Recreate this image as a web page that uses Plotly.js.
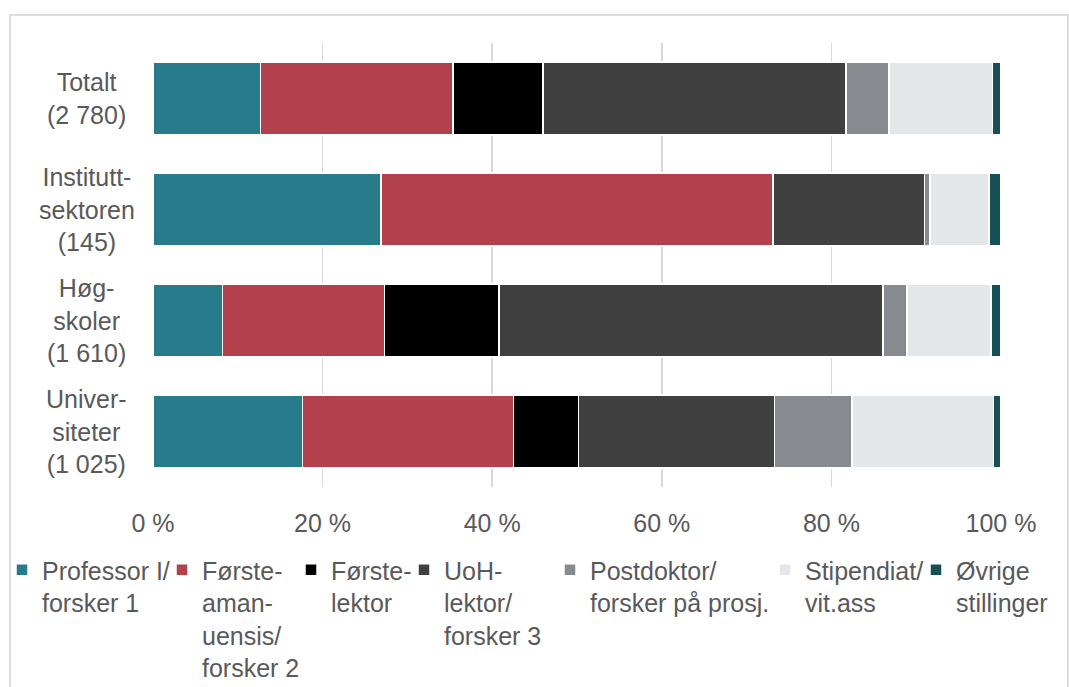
<!DOCTYPE html>
<html>
<head>
<meta charset="utf-8">
<script src="https://cdn.plot.ly/plotly-3.0.1.min.js"></script>
<style>
  html, body { margin: 0; padding: 0; background: #ffffff; }
  #wrap { position: relative; width: 1069px; height: 687px; overflow: hidden; }
  #chart { position: absolute; left: 0; top: 0; width: 1069px; height: 687px; }
  #frame { position: absolute; left: 9px; top: 14px; width: 1060px; height: 690px;
           border: 2px solid #DDDDDD; box-sizing: border-box; pointer-events: none; }
</style>
</head>
<body>
<div id="wrap">
  <div id="chart"></div>
  <div id="frame"></div>
</div>
<script>
// Categories, top to bottom
const categories = ["Totalt", "Instituttsektoren", "Høgskoler", "Universiteter"];
const categoryLabels = ["Totalt<br>(2 780)", "Institutt-<br>sektoren<br>(145)", "Høg-<br>skoler<br>(1 610)", "Univer-<br>siteter<br>(1 025)"];

// Series names (legend text)
const seriesNames = [
  "Professor I/<br>forsker 1",
  "Første-<br>aman-<br>uensis/<br>forsker 2",
  "Første-<br>lektor",
  "UoH-<br>lektor/<br>forsker 3",
  "Postdoktor/<br>forsker på prosj.",
  "Stipendiat/<br>vit.ass",
  "Øvrige<br>stillinger"
];

// Shares (%) per category, in category order above
const professor      = [12.7, 26.9,  8.2, 17.6];
const forsteamanuens = [22.7, 46.2, 19.1, 24.9];
const forstelektor   = [10.6,  0.0, 13.5,  7.7];
const uohLektor      = [35.7, 17.9, 45.3, 23.1];
const postdoktor     = [ 5.1,  0.6,  2.8,  9.1];
const stipendiat     = [12.2,  7.0,  9.9, 16.7];
const ovrige         = [ 1.0,  1.4,  1.2,  0.9];

// X axis ticks
const xTickVals = [0, 20, 40, 60, 80, 100];
const xTickText = ["0 %", "20 %", "40 %", "60 %", "80 %", "100 %"];

const seriesValues = [professor, forsteamanuens, forstelektor, uohLektor, postdoktor, stipendiat, ovrige];
const colors = ["#287B8B", "#B3404D", "#000000", "#404040", "#878B8F", "#E3E7EA", "#174F56"];

const FONT = "Liberation Sans, Arial, sans-serif";
const TXT = "#595959";
const FS = 25;

// Legend entry left edges (px) — one legend per series so each entry sits where the original does
const legendLeftPx = [2, 162, 291, 404, 550, 765, 916];
const legendIds = ["legend", "legend2", "legend3", "legend4", "legend5", "legend6", "legend7"];

const traces = seriesValues.map((vals, i) => ({
  type: "bar",
  orientation: "h",
  name: seriesNames[i],
  y: categories,
  x: vals,
  legend: legendIds[i],
  marker: { color: colors[i], line: { color: "#FFFFFF", width: 1.5 } },
  hoverinfo: "skip"
}));

const annotations = categories.map((c, i) => ({
  xref: "paper", yref: "y",
  x: -0.078, y: c,
  xanchor: "center", yanchor: "middle",
  text: categoryLabels[i],
  showarrow: false,
  align: "center",
  font: { family: FONT, size: FS, color: TXT }
}));

const layout = {
  width: 1069, height: 687,
  margin: { l: 153, r: 68, t: 43, b: 200, autoexpand: false },
  paper_bgcolor: "#FFFFFF",
  plot_bgcolor: "#FFFFFF",
  barmode: "stack",
  bargap: 0.34,
  showlegend: true,
  xaxis: {
    range: [0, 100],
    tickmode: "array",
    tickvals: xTickVals,
    ticktext: xTickText,
    showgrid: true,
    gridcolor: "#D9D9D9",
    gridwidth: 1.5,
    zeroline: false,
    showline: false,
    ticks: "",
    ticklabelstandoff: 19,
    automargin: false,
    tickfont: { family: FONT, size: FS, color: TXT },
    fixedrange: true
  },
  yaxis: {
    type: "category",
    autorange: "reversed",
    showticklabels: false,
    showgrid: false,
    zeroline: false,
    showline: false,
    ticks: "",
    automargin: false,
    fixedrange: true
  },
  annotations: annotations
};

legendIds.forEach((id, i) => {
  layout[id] = {
    xref: "container", yref: "container",
    x: legendLeftPx[i] / 1069, xanchor: "left",
    y: 1 - 547 / 687, yanchor: "top",
    orientation: "v",
    valign: "top",
    bgcolor: "rgba(0,0,0,0)",
    font: { family: FONT, size: FS, color: TXT },
    itemwidth: 30
  };
});

Plotly.newPlot("chart", traces, layout, { displayModeBar: false, staticPlot: true });
</script>
</body>
</html>
